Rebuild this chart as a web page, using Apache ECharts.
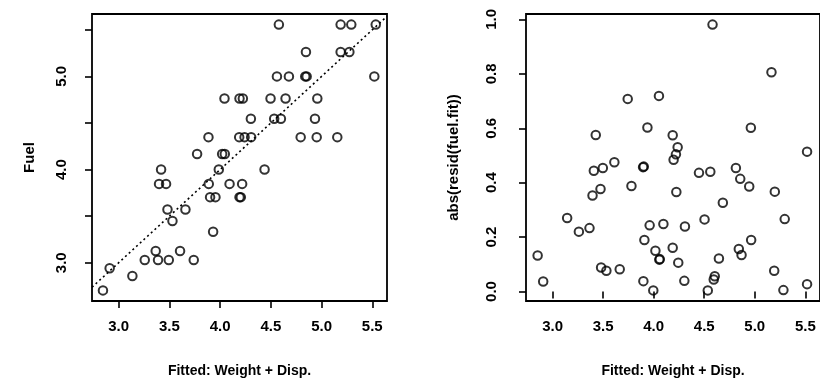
<!DOCTYPE html>
<html><head><meta charset="utf-8">
<script src="https://cdn.jsdelivr.net/npm/echarts@6/dist/echarts.min.js"></script>
<style>html,body{margin:0;padding:0;background:#fff}#c{width:820px;height:390px}</style>
</head><body><div id="c"></div>
<script>
// Left panel: Fuel vs fitted values
const fittedLeft = [4.579,5.188,5.293,5.534, 4.846,5.188,5.274, 4.560,4.678,4.839,4.853,5.520,
  4.043,4.191,4.224,4.497,4.645,4.958, 4.303,4.533,4.599,4.935,
  3.885,4.188,4.241,4.306,4.794,4.952,5.155, 3.773,4.020,4.046, 3.418,3.987,4.438,
  3.398,3.467,3.888,4.093,4.217, 3.901,3.954,4.191,4.204, 3.481,3.658, 3.530, 3.931,
  3.365,3.605, 3.257,3.388,3.494,3.740, 2.911, 3.135, 2.845];
const fuel = [5.556,5.556,5.556,5.556, 5.263,5.263,5.263, 5.000,5.000,5.000,5.000,5.000,
  4.762,4.762,4.762,4.762,4.762,4.762, 4.545,4.545,4.545,4.545,
  4.348,4.348,4.348,4.348,4.348,4.348,4.348, 4.167,4.167,4.167, 4.000,4.000,4.000,
  3.846,3.846,3.846,3.846,3.846, 3.704,3.704,3.704,3.704, 3.571,3.571, 3.448, 3.333,
  3.125,3.125, 3.030,3.030,3.030,3.030, 2.941, 2.857, 2.703];
// Right panel: abs residuals vs fitted values
const fittedRight = [4.582,5.165,3.743,4.052,3.938,4.961,3.427,4.188,4.237,5.517,
  4.220,4.197,3.611,3.408,3.497,3.895,3.902,4.448,4.560,4.813,
  4.856,4.945,5.198,4.224,3.780,3.474,3.395,4.684,3.144,3.260,
  3.365,3.960,4.096,4.309,4.503,5.296,3.908,4.964,2.852,4.017,
  4.188,4.842,4.869,4.056,4.060,4.243,4.645,3.480,3.532,3.664,
  5.192,2.907,3.898,4.303,4.604,4.594,3.996,4.535,5.283,5.517];
const absResid = [0.981,0.806,0.708,0.719,0.603,0.602,0.575,0.574,0.530,0.514,
  0.504,0.484,0.475,0.444,0.454,0.457,0.459,0.436,0.440,0.454,
  0.414,0.386,0.367,0.366,0.388,0.377,0.353,0.326,0.270,0.220,
  0.233,0.243,0.248,0.239,0.265,0.266,0.189,0.189,0.132,0.150,
  0.161,0.156,0.134,0.117,0.119,0.106,0.121,0.088,0.076,0.082,
  0.076,0.037,0.038,0.039,0.056,0.044,0.004,0.004,0.005,0.027];
const xTicks = [3.0,3.5,4.0,4.5,5.0,5.5];
const fuelTicks = [3.0,3.5,4.0,4.5,5.0,5.5];
const fuelLabelTicks = [3.0,4.0,5.0];
const residTicks = [0.0,0.2,0.4,0.6,0.8,1.0];
const xRange = [2.737, 5.645];
const fuelRange = [2.589, 5.670];
const residRange = [-0.035, 1.02];
const xTitle = 'Fitted: Weight + Disp.';
const fuelTitle = 'Fuel';
const residTitle = 'abs(resid(fuel.fit))';

const FONT = "'Liberation Sans',Arial,Helvetica,sans-serif";
const FSH = 14;   // horizontal title
const FSL = 15;   // horizontal tick labels
const FSV = 15;   // rotated text
const fmt1 = v => Number(v).toFixed(1);
const txt = size => ({color: '#000', fontFamily: FONT, fontSize: size, fontWeight: 'bold'});

function xAxisCfg(gi) {
  return {
    type: 'value', gridIndex: gi, min: xRange[0], max: xRange[1],
    axisLine: {show: false}, splitLine: {show: false},
    axisTick: {show: true, customValues: xTicks, length: 7, lineStyle: {color: '#000', width: 1.6}},
    axisLabel: Object.assign({customValues: xTicks, formatter: fmt1, margin: 18}, txt(FSL)),
    name: xTitle, nameLocation: 'middle', nameGap: 63,
    nameTextStyle: txt(FSH)
  };
}
function yAxisCfg(gi, range, ticks, labelTicks, title, lm, ng) {
  return {
    type: 'value', gridIndex: gi, min: range[0], max: range[1],
    axisLine: {show: false}, splitLine: {show: false},
    axisTick: {show: true, customValues: ticks, length: 7, lineStyle: {color: '#000', width: 1.6}},
    axisLabel: Object.assign({customValues: labelTicks, formatter: fmt1, rotate: 90, margin: lm}, txt(FSV)),
    name: title, nameLocation: 'middle', nameGap: ng, nameRotate: 90,
    nameTextStyle: txt(FSV)
  };
}
const circle = {color: 'rgba(0,0,0,0)', borderColor: '#000', borderWidth: 2};

const chart = echarts.init(document.getElementById('c'), null, {renderer: 'canvas'});
chart.setOption({
  animation: false,
  backgroundColor: '#fff',
  grid: [
    {left: 92, top: 14, width: 295, height: 287, show: true, borderColor: '#000', borderWidth: 1.8, backgroundColor: 'transparent'},
    {left: 526, top: 14, width: 294, height: 287, show: true, borderColor: '#000', borderWidth: 1.8, backgroundColor: 'transparent'}
  ],
  xAxis: [xAxisCfg(0), xAxisCfg(1)],
  yAxis: [
    yAxisCfg(0, fuelRange, fuelTicks, fuelLabelTicks, fuelTitle, 23, 55),
    yAxisCfg(1, residRange, residTicks, residTicks, residTitle, 27, 65)
  ],
  series: [
    {
      type: 'scatter', xAxisIndex: 0, yAxisIndex: 0, symbol: 'circle', symbolSize: 8.5,
      itemStyle: circle, data: fittedLeft.map((x, i) => [x, fuel[i]]),
      markLine: {
        silent: true, symbol: 'none', animation: false,
        lineStyle: {type: [2, 3], color: '#000', width: 1.6},
        label: {show: false},
        data: [[{coord: [xRange[0], xRange[0]]}, {coord: [xRange[1], xRange[1]]}]]
      }
    },
    {
      type: 'scatter', xAxisIndex: 1, yAxisIndex: 1, symbol: 'circle', symbolSize: 8.5,
      itemStyle: circle, data: fittedRight.map((x, i) => [x, absResid[i]])
    }
  ]
});
</script>
</body></html>
